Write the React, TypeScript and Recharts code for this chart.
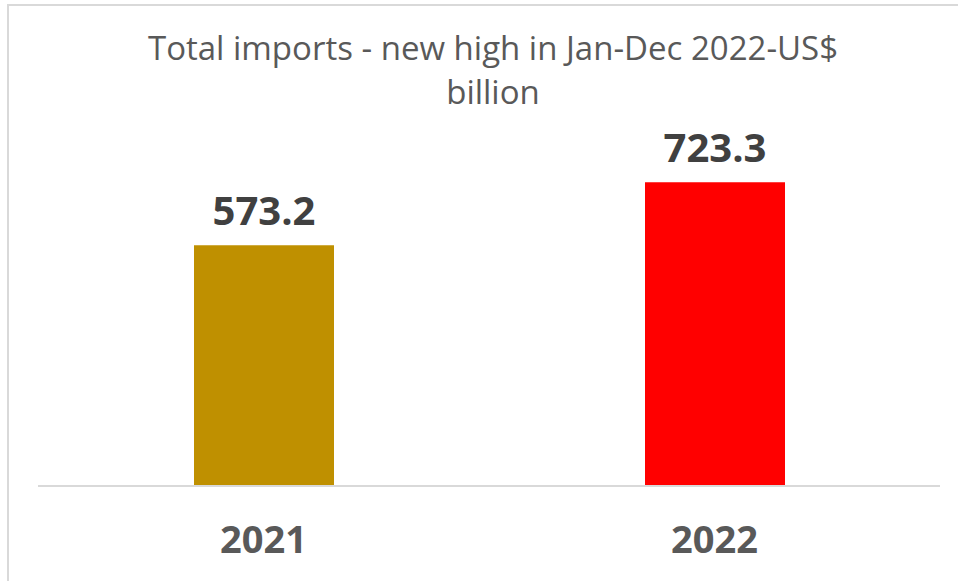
import { BarChart, Bar, XAxis, YAxis, Cell, LabelList } from "recharts";

const years = ["2021", "2022"];
const imports = [573.2, 723.3];
const barColors = ["#BF9000", "#FF0000"];

const data = years.map((year, i) => ({ year, value: imports[i], fill: barColors[i] }));

export default function App() {
  return (
    <div
      style={{
        position: "absolute",
        left: 0,
        top: 0,
        width: 958,
        height: 581,
        background: "#fff",
        overflow: "hidden",
        fontFamily: "'Open Sans', sans-serif",
      }}
    >
      {/* frame: only top and left edges show in the crop */}
      <div
        style={{
          position: "absolute",
          left: 7,
          top: 4,
          width: 960,
          height: 600,
          borderTop: "2px solid #d9d9d9",
          borderLeft: "2px solid #d9d9d9",
        }}
      />
      <div
        style={{
          position: "absolute",
          left: 43,
          top: 26,
          width: 900,
          textAlign: "center",
          fontSize: 33,
          lineHeight: "44px",
          color: "#595959",
        }}
      >
        Total imports - new high in Jan-Dec 2022-US$
        <br />
        billion
      </div>
      <BarChart
        width={958}
        height={581}
        data={data}
        margin={{ top: 150, right: 18, bottom: 0, left: 38 }}
        style={{ position: "absolute", left: 0, top: 0 }}
      >
        <XAxis
          dataKey="year"
          axisLine={{ stroke: "#d9d9d9", strokeWidth: 2 }}
          tickLine={false}
          tickMargin={34}
          height={95}
          tick={{ fill: "#595959", fontSize: 38, fontWeight: 700, fontFamily: "'Open Sans', sans-serif" }}
        />
        <YAxis hide domain={[0, 800]} />
        <Bar dataKey="value" barSize={140} isAnimationActive={false}>
          {data.map((d) => (
            <Cell key={d.year} fill={d.fill} />
          ))}
          <LabelList
            dataKey="value"
            position="top"
            offset={20}
            fill="#404040"
            fontSize={40}
            fontWeight={700}
            fontFamily="'Open Sans', sans-serif"
          />
        </Bar>
      </BarChart>
    </div>
  );
}
